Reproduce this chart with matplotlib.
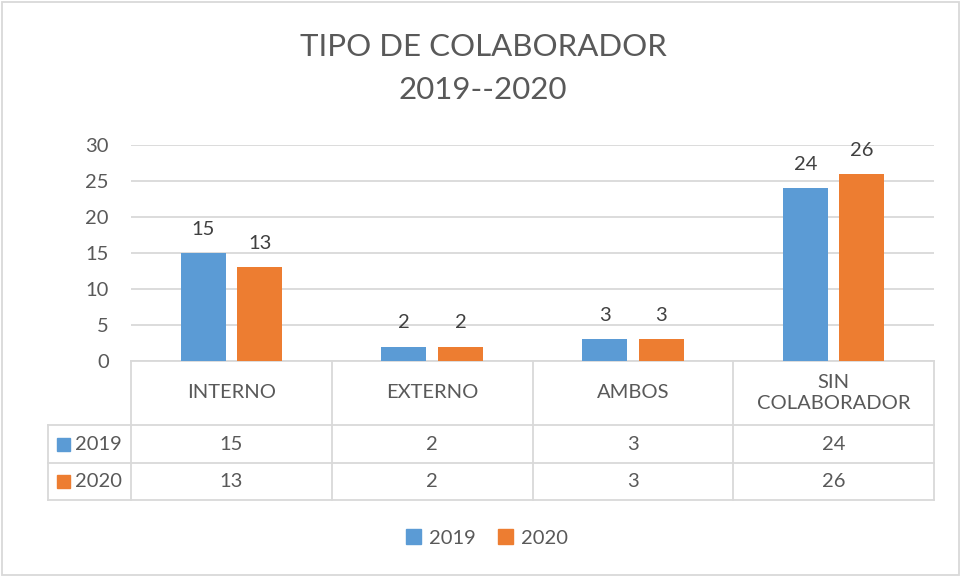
import matplotlib.pyplot as plt
from matplotlib.patches import Patch, Rectangle
import numpy as np

plt.rcParams['font.family'] = ['Lato', 'DejaVu Sans']

categorias = ['INTERNO', 'EXTERNO', 'AMBOS', 'SIN\nCOLABORADOR']
series = ['2019', '2020']
valores_2019 = [15, 2, 3, 24]
valores_2020 = [13, 2, 3, 26]
colores = ['#5B9BD5', '#ED7D31']
texto = '#595959'
linea = '#D9D9D9'
fs = 14.5

W, H = 963, 577
fig = plt.figure(figsize=(W / 100, H / 100), dpi=100)

# plot area in pixels: x 131..934, y 145..361
ax = fig.add_axes([131 / W, 1 - 361 / H, (934 - 131) / W, (361 - 145) / H])

x = np.arange(len(categorias))
ancho = 0.224
desp = 0.141
for vals, col, d in zip([valores_2019, valores_2020], colores, [-desp, desp]):
    barras = ax.bar(x + d, vals, width=ancho, color=col, zorder=3)
    ax.bar_label(barras, padding=11, fontsize=fs, color='#404040')

ax.set_xlim(-0.5, len(categorias) - 0.5)
ax.set_ylim(0, 30)
ax.set_yticks(range(0, 31, 5))
ax.yaxis.grid(True, color=linea, linewidth=1.3)
ax.set_axisbelow(True)
ax.set_xticks([])
for s in ['top', 'right', 'left']:
    ax.spines[s].set_visible(False)
ax.spines['bottom'].set_color(linea)
ax.spines['bottom'].set_linewidth(1.3)
ax.tick_params(axis='y', length=0, labelsize=fs, labelcolor=texto, pad=16)

# data table under the axis (axes fractions)
alto = 361 - 145
filas = [0, -64 / alto, -102 / alto, -139 / alto]
izq = (48 - 131) / (934 - 131)
n = len(categorias)
kw = dict(transform=ax.transAxes, clip_on=False, color=linea, linewidth=1.3)
for i in range(n + 1):
    ax.plot([i / n, i / n], [filas[0], filas[-1]], **kw)
ax.plot([izq, izq], [filas[1], filas[-1]], **kw)
for yf in filas[1:]:
    ax.plot([izq, 1], [yf, yf], **kw)

for i, cat in enumerate(categorias):
    ax.text((i + 0.5) / n, (filas[0] + filas[1]) / 2, cat, transform=ax.transAxes,
            ha='center', va='center', fontsize=fs, color=texto, linespacing=1.3)
for r, (nombre, vals, col) in enumerate(zip(series, [valores_2019, valores_2020], colores)):
    yc = (filas[r + 1] + filas[r + 2]) / 2
    ax.add_patch(Rectangle(((57 - 131) / 803, yc - 6.5 / alto), 13 / 803, 13 / alto,
                           transform=ax.transAxes, clip_on=False, color=col))
    ax.text((75 - 131) / 803, yc, nombre, transform=ax.transAxes, ha='left',
            va='center', fontsize=fs, color=texto)
    for i, v in enumerate(vals):
        ax.text((i + 0.5) / n, yc, str(v), transform=ax.transAxes, ha='center',
                va='center', fontsize=fs, color=texto)

fig.text(483 / W, 1 - 47 / H, 'TIPO DE COLABORADOR', ha='center', va='center',
         fontsize=22.5, color=texto)
fig.text(483 / W, 1 - 90 / H, '2019--2020', ha='center', va='center',
         fontsize=22.5, color=texto)

handles = [Patch(color=c, label=s) for c, s in zip(colores, series)]
fig.legend(handles=handles, loc='center', bbox_to_anchor=(487 / W, 1 - 538 / H),
           ncol=2, frameon=False, fontsize=fs, labelcolor=texto,
           handlelength=0.75, handleheight=0.75, handletextpad=0.4, columnspacing=1.1)

fig.add_artist(Rectangle((2 / W, 2 / H), 957 / W, 573 / H, transform=fig.transFigure,
                         fill=False, edgecolor=linea, linewidth=1.3))

fig.savefig('out.png', dpi=100)
